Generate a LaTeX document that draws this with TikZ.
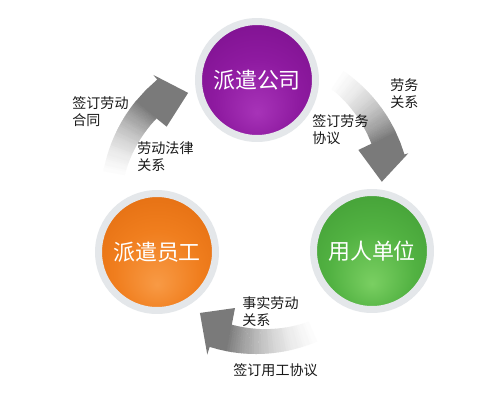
\documentclass[tikz,border=0pt]{standalone}
\usepackage{fontspec}
\newfontfamily\cjk{Noto Sans CJK SC}
\usetikzlibrary{calc}
\definecolor{ringc}{HTML}{E4E7EA}
\definecolor{pA}{HTML}{A733B8}
\definecolor{pB}{HTML}{8E1AA0}
\definecolor{pC}{HTML}{7A0F8B}
\definecolor{pD}{HTML}{5C0669}
\definecolor{oA}{HTML}{F89A45}
\definecolor{oB}{HTML}{F07E1E}
\definecolor{oC}{HTML}{E06A0E}
\definecolor{oD}{HTML}{B85205}
\definecolor{gA}{HTML}{7ACF62}
\definecolor{gB}{HTML}{52B242}
\definecolor{gC}{HTML}{3F9A33}
\definecolor{gD}{HTML}{2A7222}
\definecolor{headc}{HTML}{7A7A7A}
\pgfdeclareradialshading{purpleball}{\pgfpoint{0bp}{-14bp}}{color(0bp)=(pA); color(18bp)=(pB); color(38bp)=(pC); color(50bp)=(pD)}
\pgfdeclareradialshading{orangeball}{\pgfpoint{0bp}{-14bp}}{color(0bp)=(oA); color(18bp)=(oB); color(38bp)=(oC); color(50bp)=(oD)}
\pgfdeclareradialshading{greenball}{\pgfpoint{0bp}{-14bp}}{color(0bp)=(gA); color(18bp)=(gB); color(38bp)=(gC); color(50bp)=(gD)}
\newcommand\cycarrow[7]{%
  \foreach \i in {0,...,39}{%
    \pgfmathsetmacro\aa{#7+(#5-#7)*\i/40}%
    \pgfmathsetmacro\ab{#7+(#5-#7)*(\i+1.2)/40}%
    \pgfmathtruncatemacro\pp{50*(0.3*\i/39+0.7*\i*\i/1521)}%
    \pgfmathsetmacro\ria{134-6*\i/40}%
    \pgfmathsetmacro\rib{134-6*(\i+1.2)/40}%
    \fill[black!\pp!white] ({256+155*cos(\aa)},{199-155*sin(\aa)}) -- ({256+155*cos(\ab)},{199-155*sin(\ab)}) -- ({256+\rib*cos(\ab)},{199-\rib*sin(\ab)}) -- ({256+\ria*cos(\aa)},{199-\ria*sin(\aa)}) -- cycle;
  }%
  \fill[headc] ({256+128*cos(#5)},{199-128*sin(#5)}) -- ({256+#6*cos(#5)},{199-#6*sin(#5)}) -- ({256+#2*cos(#1)},{199-#2*sin(#1)}) -- ({256+#4*cos(#3)},{199-#4*sin(#3)}) -- ({256+155*cos(#3)},{199-155*sin(#3)}) -- ({256+155*cos((#3+#5)/2)},{199-155*sin((#3+#5)/2)}) -- ({256+155*cos(#5)},{199-155*sin(#5)}) -- cycle;
}
\tikzset{
  ball/.style={circle, minimum size=2.34cm, inner sep=0pt, draw=ringc, line width=1.4mm, text=white, font=\cjk\fontsize{12.5}{15}\selectfont},
  lab/.style={font=\cjk\fontsize{8}{9.7}\selectfont, align=left, inner sep=0pt, anchor=west, text=black!90}
}
\begin{document}
\begin{tikzpicture}[x=0.02cm, y=-0.02cm]
\useasboundingbox (0,0) rectangle (500,400);
\fill[white] (0,0) rectangle (500,400);
% arrows: tipA tipR outA outR inA inR tail
\cycarrow{122.6}{126}{129.6}{161}{141}{115}{172}
\cycarrow{7.8}{127}{16.7}{159}{25.6}{113.5}{58}
\cycarrow{243.8}{127}{252.6}{163}{259.1}{111}{296}
% circles
\node[ball, shading=purpleball] (pq) at (257,80) {派遣公司};
\node[ball, shading=orangeball] (yg) at (157,252) {派遣员工};
\node[ball, shading=greenball] (dw) at (372,251) {用人单位};
% labels
\node[lab] (l1) at (72,111.5) {签订劳动\\合同};
\node[lab] (l2) at (137,156.5) {劳动法律\\关系};
\node[lab] (l3) at (390,93.5) {劳务\\关系};
\node[lab] (l4) at (312,130) {签订劳务\\协议};
\node[lab] (l5) at (242,311.5) {事实劳动\\关系};
\node[lab] (l6) at (233,370) {签订用工协议};
\end{tikzpicture}
\end{document}
